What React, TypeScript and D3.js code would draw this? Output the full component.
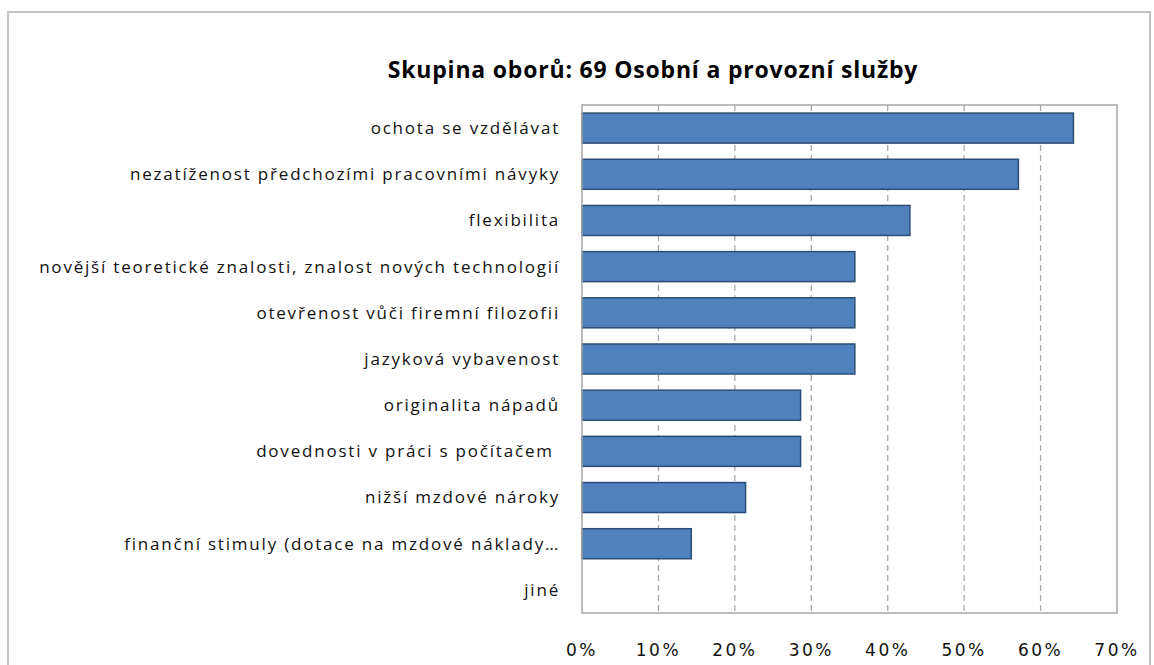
import React, { useEffect, useRef } from "react";
import * as d3 from "d3";

// Skupina oborů 69 – what employers value in graduates (share of answers)
const title = "Skupina oborů: 69 Osobní a provozní služby";

const categories = [
  "ochota se vzdělávat",
  "nezatíženost předchozími pracovními návyky",
  "flexibilita",
  "novější teoretické znalosti, znalost nových technologií",
  "otevřenost vůči firemní filozofii",
  "jazyková vybavenost",
  "originalita nápadů",
  "dovednosti v práci s počítačem ",
  "nižší mzdové nároky",
  "finanční stimuly (dotace na mzdové náklady…",
  "jiné",
];

const values = [64.3, 57.1, 42.9, 35.7, 35.7, 35.7, 28.6, 28.6, 21.4, 14.3, 0];

const ticks = [0, 10, 20, 30, 40, 50, 60, 70];

export default function App() {
  const ref = useRef<SVGSVGElement>(null);

  useEffect(() => {
    const svg = d3.select(ref.current);
    svg.selectAll("*").remove();

    const margin = { top: 105, left: 582, right: 37, bottom: 52 };
    const W = 1154, H = 665;

    // outer chart frame
    svg.append("rect")
      .attr("x", 8).attr("y", 12)
      .attr("width", 1142).attr("height", 700)
      .attr("fill", "#fff")
      .attr("stroke", "#c4c4c4")
      .attr("stroke-width", 2);

    svg.append("text")
      .attr("x", 653).attr("y", 78)
      .attr("text-anchor", "middle")
      .style("font-family", "'Open Sans', sans-serif")
      .style("font-weight", "bold")
      .style("font-size", "23px")
      .style("letter-spacing", "0.8px")
      .attr("fill", "#000")
      .text(title);

    const x = d3.scaleLinear().domain([0, 70]).range([margin.left, W - margin.right]);
    const y = d3.scaleBand().domain(categories)
      .range([margin.top, H - margin.bottom])
      .paddingInner(0.35).paddingOuter(0.175);

    const g = svg.append("g");

    // dashed grid
    g.selectAll("line.grid")
      .data(ticks.slice(1, -1))
      .enter().append("line")
      .attr("class", "grid")
      .attr("x1", (d) => x(d)).attr("x2", (d) => x(d))
      .attr("y1", margin.top).attr("y2", H - margin.bottom)
      .attr("stroke", "#a8a8a8")
      .attr("stroke-width", 1.3)
      .attr("stroke-dasharray", "6,4");

    // bars
    g.selectAll("rect.bar")
      .data(values)
      .enter().append("rect")
      .attr("class", "bar")
      .attr("x", x(0))
      .attr("y", (d, i) => y(categories[i]))
      .attr("width", (d) => x(d) - x(0))
      .attr("height", y.bandwidth())
      .attr("fill", "#4f81bd")
      .attr("stroke", (d) => (d > 0 ? "#2c4d75" : "none"))
      .attr("stroke-width", 1.5);

    // plot area border
    svg.append("rect")
      .attr("x", margin.left).attr("y", margin.top)
      .attr("width", x(70) - x(0))
      .attr("height", H - margin.bottom - margin.top)
      .attr("fill", "none")
      .attr("stroke", "#a6a6a6")
      .attr("stroke-width", 1.5);

    // category labels
    svg.append("g").selectAll("text")
      .data(categories)
      .enter().append("text")
      .attr("x", 560)
      .attr("y", (d) => y(d) + y.bandwidth() / 2)
      .attr("dy", "0.35em")
      .attr("text-anchor", "end")
      .style("font-family", "'Open Sans', sans-serif")
      .style("font-size", "17px")
      .style("letter-spacing", "1.8px")
      .style("white-space", "pre")
      .attr("fill", "#111")
      .text((d) => d);

    // x tick labels
    svg.append("g").selectAll("text")
      .data(ticks)
      .enter().append("text")
      .attr("x", (d) => x(d))
      .attr("y", 656)
      .attr("text-anchor", "middle")
      .style("font-family", "'DejaVu Sans', sans-serif")
      .style("font-size", "17px")
      .style("letter-spacing", "2.5px")
      .attr("fill", "#111")
      .text((d) => d + "%");
  }, []);

  return (
    <svg
      ref={ref}
      width={1154}
      height={665}
      style={{ position: "absolute", left: 0, top: 0, background: "#fff" }}
    />
  );
}
